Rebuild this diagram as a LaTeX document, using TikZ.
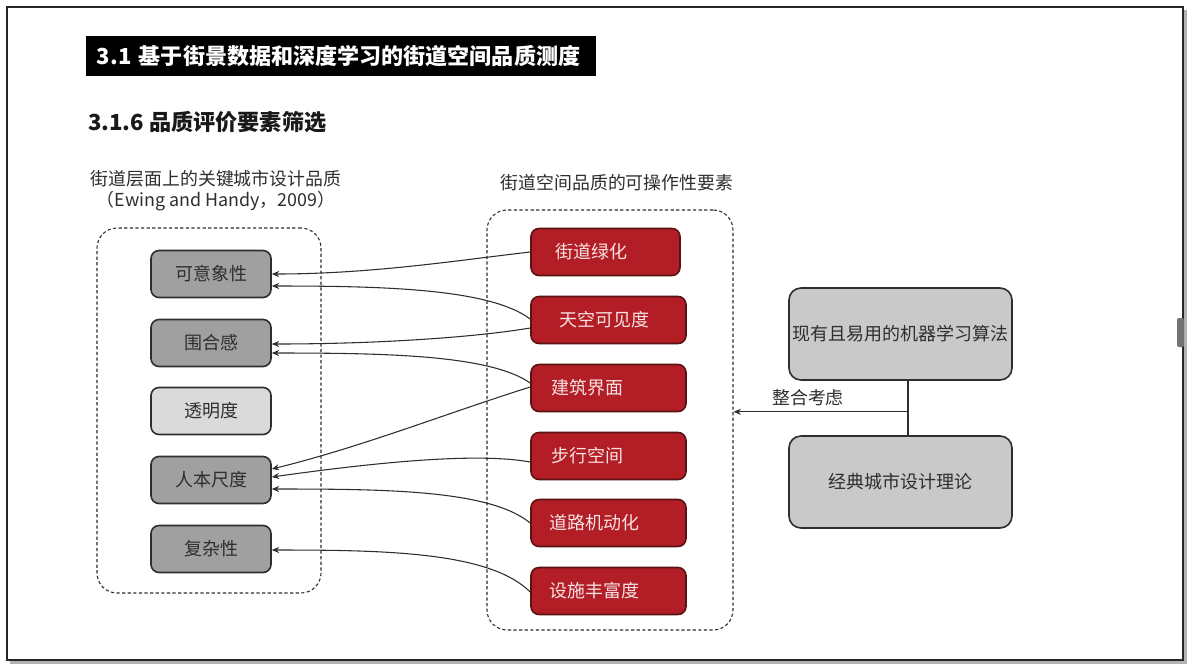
\documentclass[tikz,border=0pt]{standalone}
\usepackage{fontspec}
\setmainfont{Noto Sans CJK SC}
\usetikzlibrary{arrows.meta,calc}
\definecolor{myred}{HTML}{B31E26}
\definecolor{myredline}{HTML}{5A1212}
\definecolor{mytext}{HTML}{F6E2E2}
\definecolor{gfill}{HTML}{A0A0A0}
\definecolor{glight}{HTML}{DADADA}
\definecolor{mfill}{HTML}{C9C9C9}
\definecolor{ink}{HTML}{2E2E2E}
\newcommand\myfs[2]{\fontsize{#1}{#2}\selectfont}
\begin{document}
\begin{tikzpicture}[x=0.75pt,y=-0.75pt,
  nodefont/.style={font=\myfs{13.5pt}{16pt}},
  gbox/.style={draw=ink, fill=gfill, line width=1.2pt, rounded corners=6pt,
    minimum width=90pt, minimum height=35.25pt, inner sep=0pt, nodefont, text=ink},
  rbox/.style={draw=myredline, fill=myred, text=mytext, line width=1.2pt, rounded corners=6pt,
    minimum height=35.25pt, inner ysep=0pt, inner xsep=15pt, text width=86.25pt, align=left, nodefont},
  mbox/.style={draw=ink, fill=mfill, line width=1.2pt, rounded corners=9pt,
    minimum width=167.25pt, minimum height=69pt, inner sep=0pt, nodefont, text=ink},
  dbox/.style={draw=ink, line width=0.8pt, dash pattern=on 2.4pt off 1.8pt, rounded corners=15pt, inner sep=0pt},
  arr/.style={draw=ink, line width=0.8pt, -{Stealth[length=5.5pt,width=4.5pt]}},
  conn/.style={draw=ink, line width=0.9pt}
]
\useasboundingbox (0,0) rectangle (1192,669);
% frame with shadow
\fill[black!30] (10,10) rectangle (1187,664);
\draw[fill=white, draw=black!85, line width=1.1pt] (7,7) rectangle (1183,660);
\fill[black!55, rounded corners=1.5pt] (1177,318) rectangle (1184,347);

% titles
\node[fill=black, text=white, anchor=north west, minimum height=30pt, inner ysep=0pt,
      inner xsep=8pt, text width=366.5pt, align=left, font=\myfs{16.55pt}{18pt}\bfseries] (T) at (86,36)
      {3.1 基于街景数据和深度学习的街道空间品质测度};
\node[anchor=west, inner sep=0pt, font=\myfs{16.6pt}{19pt}\bfseries, text=black!90] (S) at (88,122)
      {3.1.6 品质评价要素筛选};
\node[align=center, inner sep=0pt, font=\myfs{13.4pt}{15.75pt}, text=ink] (C1) at (216,190.5)
      {街道层面上的关键城市设计品质\\（Ewing and Handy，2009）};
\node[inner sep=0pt, font=\myfs{13.4pt}{15.75pt}, text=ink] (C2) at (617,183)
      {街道空间品质的可操作性要素};

% dashed groups
\node[dbox, minimum width=168pt, minimum height=273.75pt] (BL) at (209,410.5) {};
\node[dbox, minimum width=184.5pt, minimum height=315pt] (BM) at (610,420) {};

% left nodes
\node[gbox] (L1) at (211,274) {可意象性};
\node[gbox] (L2) at (211,343) {围合感};
\node[gbox, fill=glight] (L3) at (211,411) {透明度};
\node[gbox] (L4) at (211,480) {人本尺度};
\node[gbox] (L5) at (211,549) {复杂性};

% red nodes
\node[rbox, inner xsep=18pt, text width=75.75pt] (R1) at (605.5,252) {街道绿化};
\node[rbox, inner xsep=21pt, text width=74.25pt] (R2) at (608.5,320) {天空可见度};
\node[rbox] (R3) at (608.5,388) {建筑界面};
\node[rbox] (R4) at (608.5,456) {步行空间};
\node[rbox, inner xsep=13.5pt, text width=89.25pt] (R5) at (608.5,523) {道路机动化};
\node[rbox, inner xsep=13.5pt, text width=89.25pt] (R6) at (608.5,591) {设施丰富度};

% curved connectors
\draw[arr] (R1.west) .. controls +(-70,8) and +(100,0) .. ($(L1.east)+(0,0)$);
\draw[arr] ($(R2.west)+(0,-1)$) .. controls +(-40,-30) and +(115,0) .. ($(L1.east)+(0,12)$);
\draw[arr] ($(R2.west)+(0,8)$) .. controls +(-60,10) and +(100,0) .. ($(L2.east)+(0,1)$);
\draw[arr] ($(R3.west)+(0,-5)$) .. controls +(-40,-28) and +(115,0) .. ($(L2.east)+(0,10)$);
\draw[arr] ($(R3.west)+(0,-1)$) .. controls +(-80,25) and +(90,-22) .. ($(L4.east)+(0,-11)$);
\draw[arr] ($(R4.west)+(0,6)$) .. controls +(-55,-10) and +(100,-14) .. ($(L4.east)+(0,-3)$);
\draw[arr] ($(R5.west)+(0,0)$) .. controls +(-40,-33) and +(115,0) .. ($(L4.east)+(0,9)$);
\draw[arr] ($(R6.west)+(0,1)$) .. controls +(-40,-40) and +(115,0) .. ($(L5.east)+(0,1)$);

% right side
\node[mbox] (M1) at (900.5,334) {现有且易用的机器学习算法};
\node[mbox] (M2) at (900.5,482) {经典城市设计理论};
\coordinate (J) at ($(M1.south)+(7.5,31)$);
\draw[conn] (M1.south -| J) -- (M2.north -| J);
\draw[arr] (J) -- (J -| BM.east);
\node[inner sep=0pt, font=\myfs{13.4pt}{15pt}, text=ink] (K) at (808,398) {整合考虑};
\end{tikzpicture}
\end{document}
